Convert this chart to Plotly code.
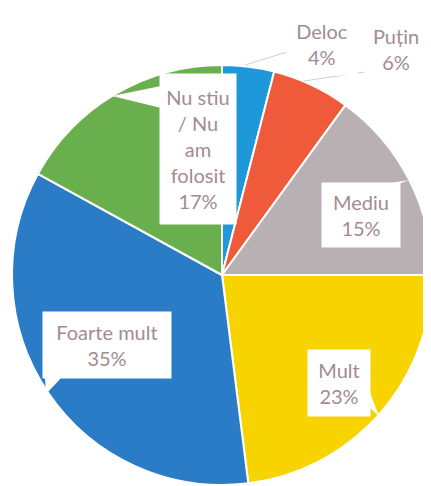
import plotly.graph_objects as go

categories = ["Deloc", "Puțin", "Mediu", "Mult", "Foarte mult", "Nu stiu / Nu am folosit"]
values = [4, 6, 15, 23, 35, 17]
colors = ["#1e98d8", "#ee5a3a", "#b8b0b2", "#f7d300", "#2b7cc6", "#6aaf4e"]
label_texts = ["Deloc<br>4%", "Puțin<br>6%", "Mediu<br>15%", "Mult<br>23%",
               "Foarte mult<br>35%", "Nu stiu<br>/ Nu<br>am<br>folosit<br>17%"]

W, H = 431, 486
OFF = 8  # default page margin of the html body


def px(x):
    return (x - OFF) / W


def py(y):
    return 1 - (y - OFF) / H


fig = go.Figure(go.Pie(
    labels=categories, values=values, sort=False, direction="clockwise", rotation=0,
    marker=dict(colors=colors, line=dict(color="white", width=2)),
    textinfo="none", hoverinfo="label+percent", showlegend=False,
    domain=dict(x=[px(12), px(432)], y=[py(485), py(65)]),
))

# callout boxes: (center x, center y, width, height) in pixels
boxes = [(322, 44, 70, 62), (396, 49, 62, 66), (361, 215, 78, 64),
         (339, 383, 62, 66), (107, 345, 128, 66), (198, 149, 76, 150)]

annotations = []
for (cx, cy, bw, bh), t in zip(boxes, label_texts):
    annotations.append(dict(
        x=px(cx), y=py(cy), xref="paper", yref="paper", text=t, showarrow=False,
        xanchor="center", yanchor="middle",
        width=bw, height=bh, bgcolor="white", borderpad=0,
        font=dict(family="Lato, Open Sans, sans-serif", size=20, color="#a38b92"),
        align="center", valign="middle",
    ))

shapes = []
# leader lines for the small slices
for (x0, y0, x1, y1) in [(287, 52, 245, 65), (365, 72, 304, 81)]:
    shapes.append(dict(type="line", xref="paper", yref="paper",
                       x0=px(x0), y0=py(y0), x1=px(x1), y1=py(y1),
                       line=dict(color="#d0d0d0", width=1)))
# white pointer wedges of the callouts
wedges = [
    [(161, 86), (161, 108), (112, 96)],
    [(44, 362), (62, 377), (46, 394)],
    [(369, 390), (369, 407), (379, 416)],
    [(384, 184), (399, 184), (409, 180)],
]
for pts in wedges:
    path = "M " + " L ".join(f"{px(x)},{py(y)}" for x, y in pts) + " Z"
    shapes.append(dict(type="path", xref="paper", yref="paper", path=path,
                       fillcolor="white", line=dict(width=0)))

fig.update_layout(
    width=W, height=H, margin=dict(l=0, r=0, t=0, b=0),
    paper_bgcolor="white", plot_bgcolor="white",
    annotations=annotations, shapes=shapes,
)

fig.write_html("out.html")
